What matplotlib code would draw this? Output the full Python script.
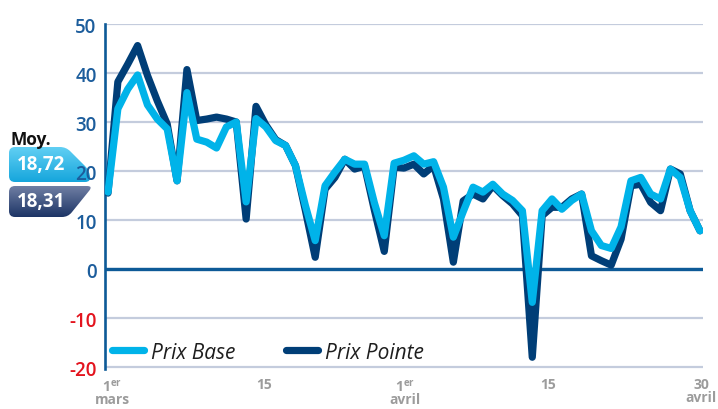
import numpy as np
import matplotlib.pyplot as plt
from matplotlib.path import Path
from matplotlib.patches import PathPatch
from matplotlib.colors import LinearSegmentedColormap

plt.rcParams['font.family'] = ['Open Sans', 'DejaVu Sans']
plt.rcParams['mathtext.fontset'] = 'custom'
plt.rcParams['mathtext.rm'] = 'Open Sans'
plt.rcParams['mathtext.bf'] = 'Open Sans:bold'

# prix spot journaliers, du 1er mars au 30 avril
jours = np.arange(61)
prix_base = [15.7, 32.7, 36.7, 39.6, 33.5, 30.6, 28.6, 18.0, 36.0, 26.5,
             25.9, 24.7, 29.0, 30.0, 13.7, 30.7, 29.0, 26.2, 25.2, 21.1,
             13.0, 5.8, 17.0, 19.8, 22.4, 21.4, 21.4, 13.5, 6.8, 21.6,
             22.2, 23.1, 21.4, 21.9, 16.7, 6.5, 11.7, 16.7, 15.7, 17.3,
             15.3, 14.0, 11.9, -6.8, 11.9, 14.3, 12.2, 14.0, 15.3, 7.8,
             4.8, 4.2, 8.6, 18.0, 18.7, 15.3, 14.3, 20.4, 18.7, 11.9,
             7.8]
prix_pointe = [15.5, 38.2, 41.8, 45.6, 39.5, 34.3, 29.6, 18.0, 40.7, 30.3,
               30.6, 31.0, 30.6, 30.0, 10.2, 33.2, 29.4, 26.4, 25.2, 21.1,
               12.0, 2.4, 16.3, 18.7, 22.4, 20.4, 21.0, 12.0, 3.6, 20.8,
               20.6, 21.4, 19.4, 21.1, 14.3, 1.4, 13.9, 15.3, 14.3, 17.0,
               15.0, 13.3, 10.9, -18.0, 10.9, 12.6, 12.6, 14.3, 15.3, 2.7,
               1.7, 0.8, 6.1, 17.0, 17.3, 13.6, 11.9, 20.4, 19.4, 11.9,
               7.8]
moy_base = '18,72'
moy_pointe = '18,31'
y_ticks = [-20, -10, 0, 10, 20, 30, 40, 50]
x_ticks = [0.4, 15.8, 30.1, 44.6, 60.1]
x_labels = [r'1$^{\mathbf{er}}$' + '\nmars', '15',
            r'1$^{\mathbf{er}}$' + '\navril', '15', '30\navril']

BLEU_CLAIR = '#00b3e9'
BLEU_FONCE = '#003e77'
AXE = '#0d5a97'
GRILLE = '#c4ccdd'
TXT_Y = '#1c5d9c'
ROUGE = '#e3141e'


def rounded_path(pts, r):
    verts, codes = [], []
    n = len(pts)
    for i in range(n):
        p0 = np.array(pts[i - 1], float)
        p1 = np.array(pts[i], float)
        p2 = np.array(pts[(i + 1) % n], float)
        d1, d2 = p0 - p1, p2 - p1
        l1, l2 = np.linalg.norm(d1), np.linalg.norm(d2)
        a = p1 + d1 / l1 * min(r, l1 / 2)
        b = p1 + d2 / l2 * min(r, l2 / 2)
        verts.append(a)
        codes.append(Path.MOVETO if i == 0 else Path.LINETO)
        verts += [p1, b]
        codes += [Path.CURVE3, Path.CURVE3]
    verts.append(verts[0])
    codes.append(Path.CLOSEPOLY)
    return Path(verts, codes)


fig = plt.figure(figsize=(7.18, 4.10), dpi=100)

# fond en pixels pour les pastilles de moyenne
bg = fig.add_axes([0, 0, 1, 1], zorder=-1)
bg.axis('off')


def pastille(pts, top, bottom, texte, ty):
    xs = [p[0] for p in pts]
    ys = [p[1] for p in pts]
    patch = PathPatch(rounded_path(pts, 6), facecolor='none', edgecolor='none')
    bg.add_patch(patch)
    cmap = LinearSegmentedColormap.from_list('g', [top, bottom])
    im = bg.imshow(np.linspace(0, 1, 64).reshape(-1, 1), cmap=cmap, origin='upper',
                   extent=(min(xs), max(xs), max(ys), min(ys)), aspect='auto')
    im.set_clip_path(patch)
    bg.text(41, ty, texte, color='white', fontsize=13.5, fontweight='bold',
            ha='center', va='center')


pastille([(9, 148), (66, 148), (89, 171), (91, 183), (9, 183)],
         '#63d0f4', '#16a6dc', moy_base, 165)
pastille([(9, 187), (93, 187), (68, 218), (9, 218)],
         '#6f7ea3', '#1d3566', moy_pointe, 202)
bg.text(31, 140, 'Moy.', color='#111111', fontsize=12.5, fontweight='bold',
        ha='center', va='center')
bg.set_xlim(0, 718)
bg.set_ylim(410, 0)

ax = fig.add_axes([105 / 718, 40 / 410, 598 / 718, 345 / 410])
ax.plot(jours, prix_pointe, color=BLEU_FONCE, lw=5.2, solid_joinstyle='round',
        solid_capstyle='round', label='Prix Pointe', zorder=3)
ax.plot(jours, prix_base, color=BLEU_CLAIR, lw=5.2, solid_joinstyle='round',
        solid_capstyle='round', label='Prix Base', zorder=4)

ax.set_xlim(-0.304, 60.304)
ax.set_ylim(-20.4, 50)
ax.set_yticks(y_ticks)
ax.set_yticklabels([str(v) for v in y_ticks])
ax.set_xticks(x_ticks)
ax.set_xticklabels(x_labels)
ax.yaxis.grid(True, color=GRILLE, lw=1.6)
ax.set_axisbelow(True)
ax.axhline(0, color=AXE, lw=2.4, zorder=2)

for s in ['top', 'right', 'bottom']:
    ax.spines[s].set_visible(False)
ax.spines['left'].set_color(AXE)
ax.spines['left'].set_linewidth(1.9)

ax.tick_params(axis='y', length=0, pad=6, labelsize=13.5)
ax.tick_params(axis='x', length=0, pad=6, labelsize=10, labelcolor='#9c9c9c')
for lab, v in zip(ax.get_yticklabels(), y_ticks):
    lab.set_fontweight('semibold')
    lab.set_color(ROUGE if v < 0 else TXT_Y)
for lab in ax.get_xticklabels():
    lab.set_fontweight('bold')
    lab.set_linespacing(0.92)

h, l = ax.get_legend_handles_labels()
leg = ax.legend(h[::-1], l[::-1], loc='lower left', bbox_to_anchor=(0.012, 0.018),
                ncol=2, frameon=False, handlelength=1.55, handletextpad=0.3,
                columnspacing=2.45, borderpad=0, borderaxespad=0,
                prop={'size': 15, 'style': 'italic'})
for t in leg.get_texts():
    t.set_color('#1e1e1e')

fig.savefig('out.png', dpi=100)
